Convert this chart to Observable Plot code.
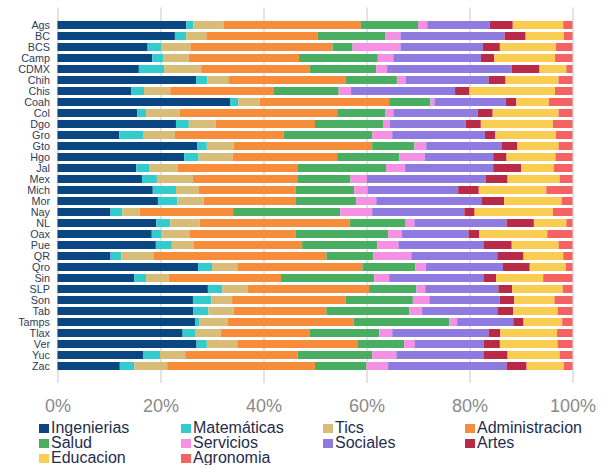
<!DOCTYPE html>
<html>
<head>
<meta charset="utf-8">
<script src="https://cdn.jsdelivr.net/npm/d3@7"></script>
<script src="https://cdn.jsdelivr.net/npm/@observablehq/plot@0.6"></script>
<style>
  body { margin: 0; background: #fff; font-family: "Liberation Sans", Arial, sans-serif; }
  #legend { position: relative; display: grid; grid-template-columns: 142px 142px 142px 142px; grid-auto-rows: 15px; margin-left: 39px; font-size: 16px; line-height: 15px; color: #1f2d4d; }
  #legend .item { display: flex; align-items: center; white-space: nowrap; height: 15px; }
  #legend .sw { display: inline-block; width: 9.5px; height: 9.5px; margin-right: 2.5px; margin-top: 2px; }
  #legend .lbl { display: inline-block; height: 15px; line-height: 15px; overflow: visible; }
</style>
</head>
<body>
<div id="chart"></div>
<div id="legend"></div>
<script>
const states = ["Ags","BC","BCS","Camp","CDMX","Chih","Chis","Coah","Col","Dgo","Gro","Gto","Hgo","Jal","Mex","Mich","Mor","Nay","NL","Oax","Pue","QR","Qro","Sin","SLP","Son","Tab","Tamps","Tlax","Ver","Yuc","Zac"];
const categories = ["Ingenierias","Matemáticas","Tics","Administracion","Salud","Servicios","Sociales","Artes","Educacion","Agronomia"];
const colors = ["#0a4782","#33cccc","#d8bd78","#f78c3b","#4aae62","#f590e3","#8f7ae0","#b82a47","#f9cd52","#f46264"];
const xTicks = [0, 0.2, 0.4, 0.6, 0.8, 1];

const ingenierias    = [25.0,22.8,17.5,18.4,15.8,26.9,14.3,33.5,15.5,23.0,12.0,27.1,24.6,15.3,16.4,18.5,19.5,10.3,19.2,18.3,19.1,10.3,27.3,14.9,29.2,26.3,26.4,26.7,24.3,27.0,16.6,12.1];
const matematicas    = [1.4,2.2,2.7,2.1,4.9,2.2,2.5,1.6,1.7,2.5,4.6,1.9,2.8,2.6,2.9,4.5,3.8,2.3,2.7,1.9,3.1,2.1,2.7,2.3,2.8,3.6,2.9,0.9,2.4,2.0,3.3,2.8];
const tics           = [5.9,3.9,5.6,5.0,7.2,4.2,5.1,4.1,6.5,5.2,6.2,5.2,6.6,5.5,7.0,4.4,5.1,3.4,5.7,5.4,4.2,6.2,4.9,4.4,5.0,4.0,4.9,5.4,5.0,5.9,4.9,6.4];
const administracion = [26.6,21.6,27.6,21.4,21.1,22.6,20.0,25.2,30.6,19.3,21.1,26.9,20.3,23.3,20.4,18.8,17.9,18.1,29.1,20.6,21.1,33.6,24.3,21.8,23.5,22.0,18.0,24.5,17.2,23.3,21.8,28.7];
const salud          = [11.1,13.2,3.9,15.3,12.9,10.0,12.7,8.0,9.4,13.2,17.2,8.2,12.1,17.1,10.2,11.4,11.7,20.8,10.9,18.0,14.6,9.1,10.3,18.1,9.2,13.1,16.1,18.6,13.6,9.1,14.5,10.0];
const servicios      = [1.8,2.9,9.3,3.0,2.1,1.7,2.4,0.8,1.5,1.3,3.9,2.3,4.9,3.7,3.2,2.6,3.9,6.2,1.7,2.7,4.1,7.4,2.0,2.9,1.7,3.2,2.5,1.5,2.5,2.1,4.7,4.2];
const sociales       = [12.1,20.2,16.0,17.0,24.2,16.1,20.2,13.8,16.4,14.8,18.0,14.6,13.3,17.1,23.0,17.6,20.4,17.9,17.9,12.9,16.5,16.7,15.0,18.3,14.2,13.7,14.6,10.9,18.7,13.4,16.9,23.0];
const artes          = [4.5,4.1,3.3,2.6,5.4,3.3,2.8,2.1,2.9,2.9,2.0,3.1,2.6,5.4,4.3,4.0,4.4,2.0,5.3,2.1,5.5,5.1,5.2,2.5,2.7,2.8,3.1,2.0,2.3,3.1,4.7,3.9];
const educacion      = [9.8,7.4,10.9,11.8,5.2,10.3,16.6,6.3,12.8,14.0,11.8,8.0,9.5,6.4,10.1,13.1,11.2,15.2,6.3,13.2,9.1,7.7,7.0,9.1,9.8,7.8,8.6,7.5,11.0,11.2,10.1,7.2];
const agronomia      = [1.8,1.7,3.2,3.4,1.2,2.7,3.4,4.6,2.7,3.8,3.2,2.7,3.3,3.6,2.5,5.1,2.1,3.8,1.2,4.9,2.7,1.8,1.3,5.7,1.9,3.5,2.9,2.0,3.0,2.9,2.5,1.7];

const series = [ingenierias, matematicas, tics, administracion, salud, servicios, sociales, artes, educacion, agronomia];

const table = [];
states.forEach((s, i) => {
  categories.forEach((c, j) => {
    table.push({state: s, category: c, value: series[j][i]});
  });
});

const chart = Plot.plot({
  width: 608,
  height: 420,
  marginLeft: 57.5,
  marginRight: 35.5,
  marginTop: 7.5,
  marginBottom: 37,
  style: {fontFamily: "'Liberation Sans', Arial, sans-serif", background: "#fff"},
  x: {domain: [0, 1], ticks: xTicks, tickFormat: d3.format(".0%"), label: null},
  y: {domain: states, padding: 0.3, paddingOuter: 0.15, label: null},
  color: {domain: categories, range: colors},
  marks: [
    Plot.gridX(xTicks, {stroke: "#dcdcdc", strokeOpacity: 1, strokeWidth: 1.6}),
    Plot.barX(table, Plot.stackX({
      x: "value", y: "state", fill: "category", order: null, offset: "normalize"
    })),
    Plot.axisY({tickSize: 0, tickPadding: 8, fontSize: 10.8, fill: "#2f3b58", label: null}),
    Plot.axisX(xTicks, {tickSize: 0, tickPadding: 16, fontSize: 18, fill: "#8a8a8a", label: null, tickFormat: d3.format(".0%")})
  ]
});
document.getElementById("chart").appendChild(chart);

const legend = document.getElementById("legend");
categories.forEach((c, j) => {
  const item = document.createElement("div");
  item.className = "item";
  const sw = document.createElement("span");
  sw.className = "sw";
  sw.style.background = colors[j];
  const t = document.createElement("span");
  t.className = "lbl";
  t.textContent = c;
  item.appendChild(sw);
  item.appendChild(t);
  legend.appendChild(item);
});
</script>
</body>
</html>
